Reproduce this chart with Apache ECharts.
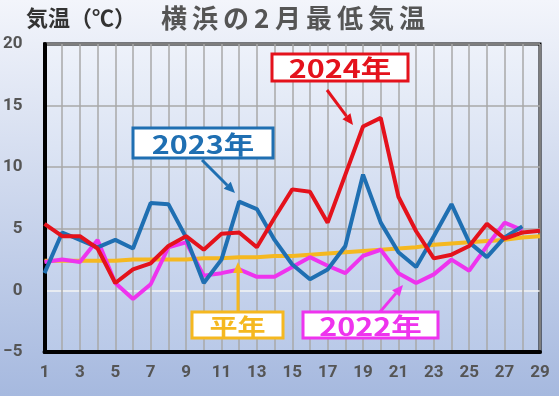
<!DOCTYPE html>
<html><head><meta charset="utf-8">
<script src="https://cdn.jsdelivr.net/npm/echarts@6/dist/echarts.min.js"></script>
<style>html,body{margin:0;padding:0;}#c{width:559px;height:396px;}</style>
</head><body><div id="c"></div>
<script>
const days = Array.from({length: 29}, (_, i) => i + 1);
const y2024 = [5.4,4.4,4.4,3.4,0.6,1.7,2.2,3.6,4.4,3.3,4.6,4.7,3.5,5.9,8.2,8.0,5.5,9.4,13.3,14.0,7.6,4.8,2.6,2.9,3.6,5.4,4.2,4.7,4.85];
const y2023 = [1.4,4.7,4.1,3.5,4.1,3.4,7.1,7.0,4.3,0.6,2.5,7.2,6.6,4.1,2.1,0.9,1.7,3.6,9.4,5.5,3.1,1.9,4.4,7.0,3.9,2.7,4.3,5.2];
const y2022 = [2.3,2.5,2.3,4.1,0.6,-0.7,0.5,3.5,3.9,1.2,1.4,1.7,1.1,1.1,1.9,2.7,2.0,1.4,2.8,3.3,1.4,0.6,1.3,2.5,1.6,3.6,5.5,4.9];
const normal = [2.4,2.4,2.4,2.4,2.4,2.5,2.5,2.5,2.5,2.6,2.6,2.7,2.7,2.8,2.8,2.9,3.0,3.1,3.2,3.3,3.4,3.5,3.7,3.8,3.9,4.0,4.1,4.3,4.4];
const yTicks = [-5, 0, 5, 10, 15, 20];

const pair = arr => arr.map((v, i) => [days[i], v]);
const chart = echarts.init(document.getElementById('c'));
const lw = 4;
const JP = '"Noto Sans CJK JP", sans-serif';
function box(x, y, w, h, text, color, fs) {
  return [{
    type: 'rect', shape: {x: x, y: y, width: w, height: h},
    style: {fill: '#fff', stroke: color, lineWidth: 3}, z: 100
  }, {
    type: 'text', x: x + w / 2, y: y + h / 2 + 1, scaleX: 1.22,
    style: {text: text, fill: color, font: 'bold ' + fs + 'px ' + JP, align: 'center', verticalAlign: 'middle'}, z: 101
  }];
}
function arrow(x1, y1, x2, y2, color) {
  const ang = Math.atan2(y2 - y1, x2 - x1);
  const L = 11, W = 5;
  const bx = x2 - L * Math.cos(ang), by = y2 - L * Math.sin(ang);
  const px = -Math.sin(ang) * W, py = Math.cos(ang) * W;
  return [{
    type: 'line', shape: {x1: x1, y1: y1, x2: bx, y2: by},
    style: {stroke: color, lineWidth: 3}, z: 99
  }, {
    type: 'polygon', shape: {points: [[x2, y2], [bx + px, by + py], [bx - px, by - py]]},
    style: {fill: color}, z: 99
  }];
}
// title second part, laid out char by char for its wide spacing
const titleChars = ['横','浜','の','2','月','最','低','気','温'];
const titleEls = [];
let tx = 161;
titleChars.forEach(ch => {
  titleEls.push({type: 'text', x: tx, y: 5, style: {text: ch, fill: '#555', font: 'bold 26px ' + JP}});
  tx += (ch === '2') ? 21 : 31;
});
const RED = '#e4121c', BLUE = '#1f6fb2', MAG = '#ee33ee', YEL = '#f5b820';
const option = {
  backgroundColor: {type: 'linear', x: 0, y: 0, x2: 0, y2: 1, colorStops: [{offset: 0, color: '#f3f5fb'}, {offset: 1, color: '#a6b9df'}]},
  animation: false,
  grid: {left: 44, right: 19, top: 44, bottom: 44, show: true, borderColor: '#000', borderWidth: 3,
    backgroundColor: {type: 'linear', x: 0, y: 0, x2: 0, y2: 1, colorStops: [{offset: 0, color: '#eef2fa'}, {offset: 1, color: '#b9c9e8'}]}},
  xAxis: {
    type: 'value', min: 1, max: 29, interval: 1,
    axisLine: {show: true, onZero: false, lineStyle: {color: '#000', width: 4}},
    axisTick: {show: false},
    splitLine: {show: true, lineStyle: {color: '#a8a8a8', width: 1.5}},
    axisLabel: {
      margin: 12, color: '#555', fontWeight: 'bold', fontSize: 17, fontFamily: 'Roboto, sans-serif',
      formatter: v => (v % 2 === 1 ? String(v) : '')
    }
  },
  yAxis: {
    type: 'value', min: -5, max: 20, interval: 5,
    axisLine: {show: true, onZero: false, lineStyle: {color: '#000', width: 4}},
    axisTick: {show: false},
    splitLine: {show: true, lineStyle: {color: ['#a8a8a8', '#f4f4f4', '#a8a8a8', '#a8a8a8', '#a8a8a8', '#a8a8a8'], width: 1.5}},
    axisLabel: {
      margin: 22, color: '#555', fontWeight: 'bold', fontSize: 17, fontFamily: 'Roboto, sans-serif',
      align: 'right',
      formatter: v => (v < 0 ? '\u2212' + Math.abs(v) : String(v))
    }
  },
  series: [
    {type: 'line', data: pair(normal), symbol: 'none', lineStyle: {color: YEL, width: lw}, z: 2},
    {type: 'line', data: pair(y2022), symbol: 'none', lineStyle: {color: MAG, width: lw}, z: 3},
    {type: 'line', data: pair(y2023), symbol: 'none', lineStyle: {color: BLUE, width: lw}, z: 4},
    {type: 'line', data: pair(y2024), symbol: 'none', lineStyle: {color: RED, width: lw}, z: 5}
  ],
  graphic: [
    {type: 'text', x: 26, y: 7, style: {text: '気温（℃）', fill: '#333', font: 'bold 22px ' + JP}},
    ...titleEls,
    ...box(272, 54, 136, 27, '2024年', RED, 25),
    ...arrow(327, 90, 353, 125, RED),
    ...box(133, 128, 140, 30, '2023年', BLUE, 25),
    ...arrow(202, 160, 235, 193, BLUE),
    ...box(192, 312, 91, 26, '平年', YEL, 23),
    ...arrow(238, 312, 238, 262, YEL),
    ...box(303, 312, 135, 26, '2022年', MAG, 25),
    ...arrow(380, 312, 403, 285, MAG)
  ]
};
chart.setOption(option);
</script></body></html>
